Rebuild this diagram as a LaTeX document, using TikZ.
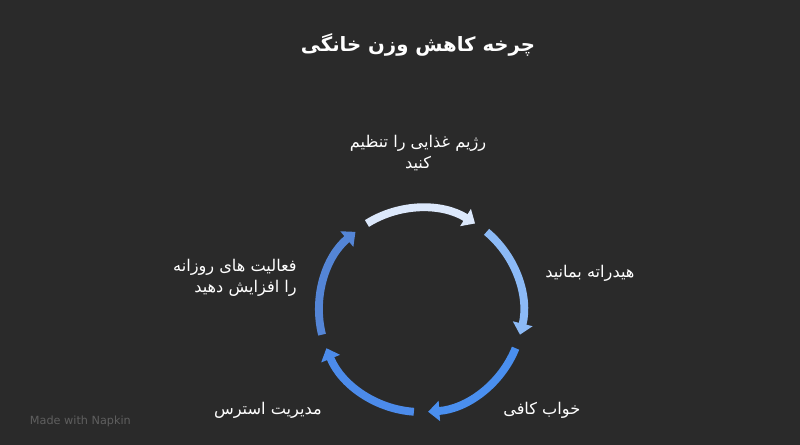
\documentclass[tikz,border=0pt]{standalone}
\usepackage{fontspec}
\setmainfont{DejaVu Sans}
\newfontfamily\persianfont[Script=Arabic]{DejaVu Sans}
\TeXXeTstate=1
\usetikzlibrary{arrows.meta, positioning, calc}
\definecolor{bgdark}{RGB}{42, 42, 42}
\definecolor{cycleA}{RGB}{220, 232, 251}
\definecolor{cycleB}{RGB}{140, 186, 246}
\definecolor{cycleC}{RGB}{74, 143, 239}
\definecolor{cycleD}{RGB}{76, 139, 234}
\definecolor{cycleE}{RGB}{84, 133, 214}
\definecolor{napkingray}{RGB}{95, 95, 95}

\begin{document}
\begin{tikzpicture}[x=0.025cm, y=0.025cm,
  steptext/.style={text=white, font=\persianfont\fontsize{11.5}{15}\selectfont, inner sep=0pt},
  cyclearc/.style={line width=5.6pt, -{Triangle[length=8pt, width=14pt]}}]
  \fill[bgdark] (0,0) rectangle (800,445);
  \useasboundingbox (0,0) rectangle (800,445);

  \coordinate (ctr) at (421,135);

  % title
  \node[steptext, font=\persianfont\bfseries\fontsize{14}{18}\selectfont] (title) at (418,400) {\beginR چرخه کاهش وزن خانگی\endR};

  % cycle arcs
  \foreach \i/\col in {0/cycleA, 1/cycleB, 2/cycleC, 3/cycleD, 4/cycleE} {
    \pgfmathsetmacro\sa{122-72*\i}
    \draw[cyclearc, draw=\col] ($(ctr)+(\sa:102)$) arc[start angle=\sa, end angle=\sa-64, radius=102];
  }

  % steps
  \node[steptext, align=center] (diet) at (418,292) {\beginR رژیم غذایی را تنظیم\endR\\ \beginR کنید\endR};
  \node[steptext, anchor=west] (water) at (545,172) {\beginR هیدراته بمانید\endR};
  \node[steptext, anchor=west] (sleep) at (503,35) {\beginR خواب کافی\endR};
  \node[steptext, anchor=east] (stress) at (322,35) {\beginR مدیریت استرس\endR};
  \node[steptext, anchor=east, align=right] (active) at (297,167) {\beginR فعالیت های روزانه\endR\\ \beginR را افزایش دهید\endR};

  \node[anchor=west, text=napkingray, font=\fontsize{8}{10}\selectfont] (made) at (25,24) {Made with Napkin};
\end{tikzpicture}
\end{document}
